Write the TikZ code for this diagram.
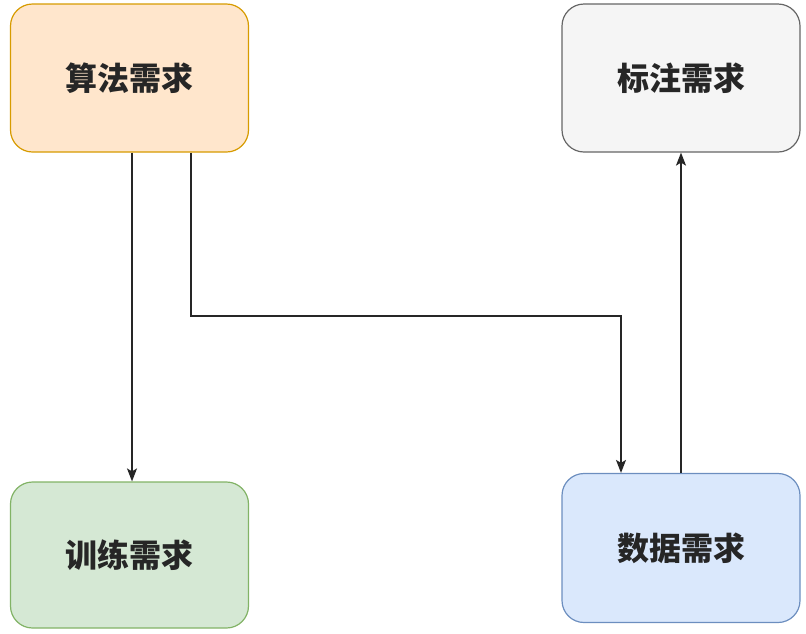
\documentclass[tikz,border=0pt]{standalone}
\usepackage{fontspec}
\newfontfamily\cjk{Noto Sans CJK SC}
\usetikzlibrary{arrows.meta}
\definecolor{orfill}{HTML}{FFE6CC}\definecolor{ordraw}{HTML}{D79B00}
\definecolor{gyfill}{HTML}{F5F5F5}\definecolor{gydraw}{HTML}{666666}
\definecolor{grfill}{HTML}{D5E8D4}\definecolor{grdraw}{HTML}{82B366}
\definecolor{blfill}{HTML}{DAE8FC}\definecolor{bldraw}{HTML}{6C8EBF}
\tikzset{
  box/.style={rounded corners=22pt, line width=1.2pt, minimum width=238pt, inner sep=0pt, font=\cjk\bfseries\fontsize{32}{38}\selectfont, text=black!85},
  conn/.style={line width=1.5pt, draw=black!85, -{Stealth[length=13pt,width=10pt,inset=3pt]}},
}
\begin{document}
\begin{tikzpicture}[x=1pt,y=-1pt]
\useasboundingbox (0,0) rectangle (806,633);
\node[box, fill=orfill, draw=ordraw, minimum height=148pt] (alg) at (129.5,78) {算法需求};
\node[box, fill=gyfill, draw=gydraw, minimum height=148pt] (lab) at (681,78) {标注需求};
\node[box, fill=grfill, draw=grdraw, minimum height=146pt] (trn) at (129.5,555) {训练需求};
\node[box, fill=blfill, draw=bldraw, minimum height=149pt] (dat) at (681,548) {数据需求};
\draw[conn] ([xshift=2.5pt]alg.south) -- ([xshift=2.5pt]trn.north);
\coordinate (c1) at (191,316);
\coordinate (c2) at (621,316);
\draw[conn] (alg.south -| c1) -- (c1) -- (c2) -- (dat.north -| c2);
\draw[conn] (dat.north) -- (lab.south);
\end{tikzpicture}
\end{document}
